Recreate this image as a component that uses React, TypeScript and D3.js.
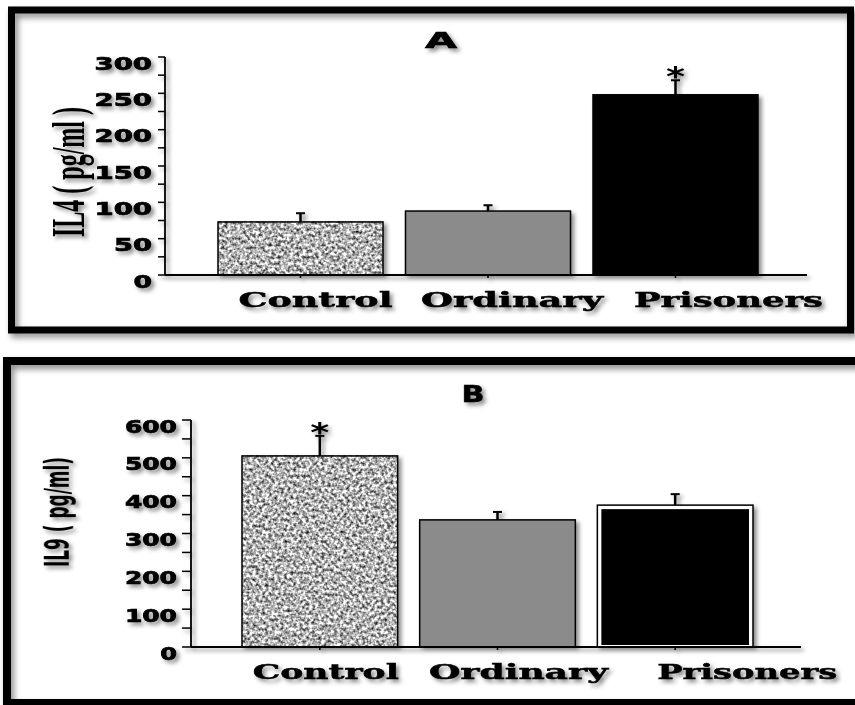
import * as d3 from "d3";

// values (pg/ml, mean with upward error bar)
const groups = ["Control", "Ordinary", "Prisoners"];

const il4Mean = [73, 88, 248];
const il4Err = [12, 8, 20];
const il4Sig = [false, false, true];
const il4Ticks = [0, 50, 100, 150, 200, 250, 300];

const il9Mean = [505, 336, 375];
const il9Err = [53, 21, 29];
const il9Sig = [true, false, false];
const il9Ticks = [0, 100, 200, 300, 400, 500, 600];

const FILL = ["#b0b0b0", "#8b8b8b", "#050505"];
const SERIF = "'DejaVu Serif', 'Liberation Serif', serif";
const TIMES = "'Liberation Serif', 'DejaVu Serif', serif";
const SANS = "'DejaVu Sans', 'Liberation Sans', sans-serif";

type PanelCfg = {
  id: string;
  title: string;
  mean: number[];
  err: number[];
  sig: boolean[];
  ticks: number[];
  minor: number;
  frame: { x: number; y: number; w: number; h: number; sw: number };
  x0: number; xEnd: number; y0: number; yTop: number;
  bars: [number, number]; pad: number;
  titlePos: { x: number; y: number; w: number; size: number };
  yLab: { text: string; x: number; y: number; len: number; size: number; stretch: number; family: string };
  catShift: number[]; catW: number[]; catY: number;
  tickLen: number; tickGap: number; digitW: number;
  doubleLast: boolean;
};

const panels: PanelCfg[] = [
  {
    id: "A", title: "A", mean: il4Mean, err: il4Err, sig: il4Sig, ticks: il4Ticks, minor: 25,
    frame: { x: 11.5, y: 10, w: 839, h: 320, sw: 7 },
    x0: 165, xEnd: 807, y0: 275, yTop: 57, bars: [218, 758], pad: 0.12,
    titlePos: { x: 441, y: 48, w: 32, size: 21 },
    yLab: { text: "IL4 ( pg/ml )", x: 84, y: 172, len: 130, size: 27, stretch: 1.75, family: TIMES },
    catShift: [15, 24, 53], catW: [154, 182, 189], catY: 307,
    tickLen: 7, tickGap: 13, digitW: 19.5, doubleLast: false,
  },
  {
    id: "B", title: "B", mean: il9Mean, err: il9Err, sig: il9Sig, ticks: il9Ticks, minor: 50,
    frame: { x: 7, y: 361, w: 862, h: 342, sw: 8 },
    x0: 191, xEnd: 801, y0: 647, yTop: 420, bars: [242, 753], pad: 0.124,
    titlePos: { x: 473, y: 402, w: 23, size: 23 },
    yLab: { text: "IL9 ( pg/ml)", x: 69, y: 512, len: 110, size: 20, stretch: 1.7, family: SANS },
    catShift: [6, 21, 72], catW: [146, 179, 180], catY: 679,
    tickLen: 9, tickGap: 14, digitW: 17.7, doubleLast: true,
  },
];

function Panel({ p }: { p: PanelCfg }) {
  const max = p.ticks[p.ticks.length - 1];
  const y = d3.scaleLinear().domain([0, max]).range([p.y0, p.yTop]);
  const x = d3.scaleBand<string>().domain(groups).range(p.bars).paddingInner(p.pad).paddingOuter(0);
  const bw = x.bandwidth();
  const minorTicks = d3.range(0, max + 1, p.minor);
  const f = p.frame;
  return (
    <g>
      <rect x={f.x} y={f.y} width={f.w} height={f.h} fill="none" stroke="#000" strokeWidth={f.sw} filter="url(#frameShadow)" />
      <g filter="url(#shadow)">
        <text x={p.titlePos.x} y={p.titlePos.y} textAnchor="middle" fontFamily={SANS} fontWeight="bold"
          fontSize={p.titlePos.size} textLength={p.titlePos.w} lengthAdjust="spacingAndGlyphs"
          stroke="#000" strokeWidth="0.6">{p.title}</text>

        {groups.map((g, i) => {
          const bx = x(g)!, top = y(p.mean[i]), et = y(p.mean[i] + p.err[i]), cx = bx + bw / 2;
          return (
            <g key={g}>
              {p.doubleLast && i === 2 ? (
                <>
                  <rect x={bx} y={top} width={bw} height={p.y0 - top} fill="#fff" stroke="#000" strokeWidth="1.5" />
                  <rect x={bx + 4} y={top + 4} width={bw - 8} height={p.y0 - top - 6} fill={FILL[i]} />
                </>
              ) : i === 0 ? (
                <>
                  <rect x={bx} y={top} width={bw} height={p.y0 - top} fill={FILL[i]} filter="url(#grain)" />
                  <rect x={bx} y={top} width={bw} height={p.y0 - top} fill="none" stroke="#000" strokeWidth="1.5" />
                </>
              ) : (
                <rect x={bx} y={top} width={bw} height={p.y0 - top} fill={FILL[i]} stroke="#000" strokeWidth="1.5" />
              )}
              <line x1={cx} x2={cx} y1={top} y2={et} stroke="#000" strokeWidth="2.5" />
              <line x1={cx - 4.5} x2={cx + 4.5} y1={et} y2={et} stroke="#000" strokeWidth="2" />
              {p.sig[i] && (
                <text x={cx} y={et + 6} textAnchor="middle" fontFamily={SANS} fontWeight="bold" fontSize="27"
                  textLength="19" lengthAdjust="spacingAndGlyphs">*</text>
              )}
              <line x1={cx} x2={cx} y1={p.y0} y2={p.y0 + 3} stroke="#000" strokeWidth="1.5" />
              <text x={cx + p.catShift[i]} y={p.catY} textAnchor="middle" fontFamily={SERIF} fontWeight="bold"
                fontSize="21" textLength={p.catW[i]} lengthAdjust="spacingAndGlyphs"
                stroke="#000" strokeWidth="0.5">{g}</text>
            </g>
          );
        })}

        <line x1={p.x0} x2={p.xEnd} y1={p.y0} y2={p.y0} stroke="#000" strokeWidth="1.8" />
        <line x1={p.x0} x2={p.x0} y1={p.y0} y2={p.yTop} stroke="#000" strokeWidth="1.8" />
        {minorTicks.map(t => (
          <line key={t} x1={p.x0 - p.tickLen} x2={p.x0} y1={y(t)} y2={y(t)} stroke="#000" strokeWidth="1.5" />
        ))}
        {p.ticks.map(t => {
          const s = String(t);
          return (
            <text key={t} x={p.x0 - p.tickGap} y={y(t) + 12.5} textAnchor="end" fontFamily={SANS} fontWeight="bold"
              fontSize="17" textLength={s.length * p.digitW - 1} lengthAdjust="spacingAndGlyphs"
              stroke="#000" strokeWidth="0.7">{s}</text>
          );
        })}

        <g transform={`translate(${p.yLab.x} ${p.yLab.y}) rotate(-90) scale(1 ${p.yLab.stretch})`}>
          <text x={0} y={0} textAnchor="middle" fontFamily={p.yLab.family} fontWeight="bold" fontSize={p.yLab.size}
            textLength={p.yLab.len} lengthAdjust="spacingAndGlyphs">{p.yLab.text}</text>
        </g>
      </g>
    </g>
  );
}

export default function App() {
  return (
    <svg width={855} height={705} viewBox="0 0 855 705"
      style={{ position: "absolute", left: 0, top: 0, background: "#fff", display: "block" }}>
      <defs>
        <filter id="grain" x="0" y="0" width="1" height="1" colorInterpolationFilters="sRGB">
          <feTurbulence type="fractalNoise" baseFrequency="0.32" numOctaves="2" seed="7" />
          <feColorMatrix type="matrix" values="1.7 0 0 0 -0.15  1.7 0 0 0 -0.15  1.7 0 0 0 -0.15  0 0 0 0 1" />
        </filter>
        <filter id="shadow" x="-5%" y="-5%" width="115%" height="120%">
          <feDropShadow dx="3" dy="3" stdDeviation="2" floodColor="#000" floodOpacity="0.45" />
        </filter>
        <filter id="frameShadow" x="-5%" y="-5%" width="115%" height="120%">
          <feDropShadow dx="3" dy="4" stdDeviation="3" floodColor="#000" floodOpacity="0.45" />
        </filter>
      </defs>
      {panels.map(p => <Panel key={p.id} p={p} />)}
    </svg>
  );
}
